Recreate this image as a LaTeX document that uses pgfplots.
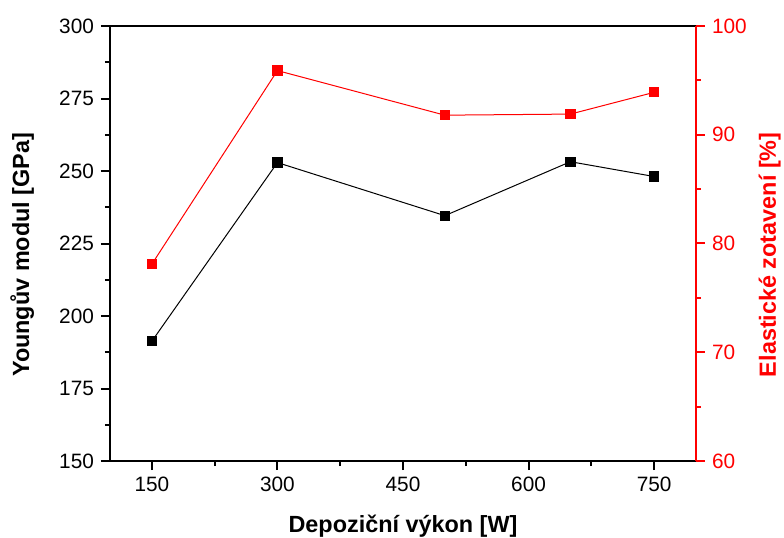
\documentclass[border=0pt]{standalone}
\usepackage{fontspec}
\setmainfont{Liberation Sans}
\usepackage{pgfplots}
\pgfplotsset{compat=1.18}
\definecolor{myred}{RGB}{255,0,0}
\begin{document}
\begin{tikzpicture}
\pgfplotsset{
 every axis/.append style={
  scale only axis, width=293pt, height=217.5pt,
  xmin=100, xmax=800,
  tick align=outside,
  major tick length=4.5pt, minor tick length=2.5pt,
  tick label style={font=\fontsize{10.4}{12}\selectfont},
  /pgf/number format/assume math mode=true,
  label style={font=\fontsize{11.7}{14}\selectfont\bfseries},
 }
}
\begin{axis}[
 name=main,
 ymin=150, ymax=300,
 xtick={150,300,450,600,750},
 minor xtick={225,375,525,675},
 ytick={150,175,...,300},
 minor ytick={162.5,187.5,...,287.5},
 xtick pos=bottom, ytick pos=left,
 axis line style={line width=1pt},
 tick style={black, line width=1pt},
 xlabel={Depoziční výkon [W]},
 ylabel={Youngův modul [GPa]},
 xlabel style={at={(axis description cs:0.5,-0.149)}, anchor=center},
 ylabel style={at={(axis description cs:-0.15,0.474)}, anchor=center},
]
\addplot[black, line width=0.5pt, mark=square*, mark size=2.3pt] coordinates {(150,191.3) (300,252.9) (500,234.6) (650,253.2) (750,248.1)};
\end{axis}
\begin{axis}[
 ymin=60, ymax=100,
 axis x line=none,
 axis y line*=right,
 ytick={60,70,...,100},
 minor ytick={65,75,85,95},
 y axis line style={myred, line width=1pt},
 tick style={myred, line width=1pt},
 yticklabel style={myred},
 ylabel={Elastické zotavení [\%]},
 ylabel style={myred, at={(axis description cs:1.126,0.474)}, anchor=center},
]
\addplot[myred, line width=0.5pt, mark=square*, mark size=2.3pt] coordinates {(150,78.1) (300,95.9) (500,91.8) (650,91.9) (750,93.9)};
\end{axis}
\pgfresetboundingbox
\path (-55pt,-38pt) rectangle (337pt,230.5pt);
\end{tikzpicture}
\end{document}
